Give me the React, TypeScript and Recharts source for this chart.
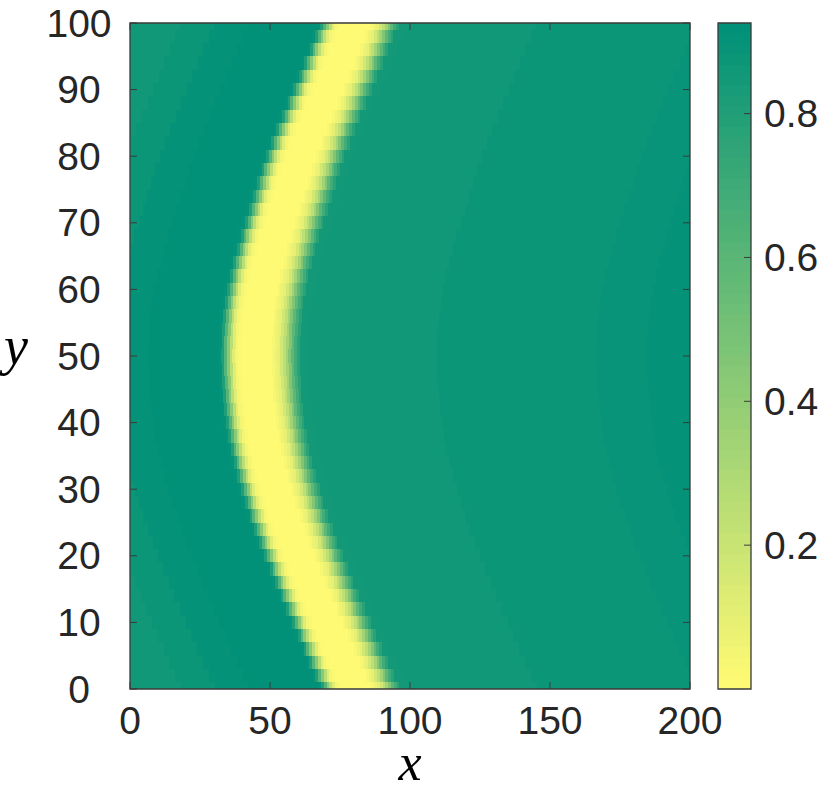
import React from 'react';
import { ScatterChart, Scatter, XAxis, YAxis, ReferenceArea, BarChart, Bar } from 'recharts';

// rows of the field (y) and the centre of the yellow band in each row (x)
const rowY = [
  0, 2, 4, 6, 8, 10, 12, 14, 16, 18, 20, 22, 24, 26, 28, 30, 32, 34, 36, 38, 40, 42, 44, 46, 48, 50,
  52, 54, 56, 58, 60, 62, 64, 66, 68, 70, 72, 74, 76, 78, 80, 82, 84, 86, 88, 90, 92, 94, 96, 98, 100,
];
const bandCenter = [
  80.2, 78.2, 76.1, 74.0, 71.9, 69.9, 67.8, 65.8, 63.8, 61.9, 60.0, 58.1, 56.4, 54.7, 53.1, 51.7, 50.3,
  49.1, 48.0, 47.1, 46.3, 45.7, 45.2, 44.9, 44.7, 44.6,
  44.7, 44.9, 45.3, 45.9, 46.7, 47.7, 48.9, 50.2, 51.6, 53.1, 54.6, 56.0, 57.5, 59.0, 60.6, 62.4, 64.3,
  66.3, 68.3, 70.3, 72.3, 74.3, 76.2, 78.1, 80.0,
];

// profile across the band: offset from band centre where a level starts, and its value
const profileStart = [
  -90, -62, -50, -38, -25, -13, -12, -11, -10, -9, -8, -7, -6, -5,
  5, 6, 7, 8, 9, 10, 11, 12, 13, 14, 15, 16, 17, 19, 65, 122, 140,
];
const profileValue = [
  0.86, 0.88, 0.9, 0.915, 0.925, 0.9, 0.8, 0.62, 0.42, 0.25, 0.12, 0.05, 0.015, 0.0,
  0.01, 0.03, 0.06, 0.1, 0.16, 0.24, 0.34, 0.46, 0.58, 0.69, 0.78, 0.84, 0.845, 0.855, 0.87, 0.885, 0.905,
];

const xTicks = [0, 50, 100, 150, 200];
const yTicks = [0, 10, 20, 30, 40, 50, 60, 70, 80, 90, 100];
const cbTicks = [0.2, 0.4, 0.6, 0.8];
const CMAX = 0.926;
const LEVELS = 64;
const ROW_H = 2;

const YELLOW = [255, 250, 115];
const TEAL = [0, 145, 120];

const PLOT_LEFT = 130;
const PLOT_TOP = 23;
const PLOT_W = 560;
const PLOT_H = 666;
const PX_X = PLOT_W / 200;
const PX_Y = PLOT_H / 100;
const CB_LEFT = 700; // where the colorbar chart sits on the page
const CB_RIGHT = 751 - CB_LEFT;

const TEXT = '#262626';
const AXIS = '#3a3a3a';
const FONT = '"Liberation Sans", Arial, Helvetica, sans-serif';
const MATH_FONT = '"Liberation Serif", "Times New Roman", serif';

function levelColor(i: number) {
  const t = i / (LEVELS - 1);
  const c = YELLOW.map((v, k) => Math.round(v + t * (TEAL[k] - v)));
  return `rgb(${c[0]},${c[1]},${c[2]})`;
}

function colorFor(v: number) {
  let i = Math.floor((v / CMAX) * LEVELS);
  if (i < 0) i = 0;
  if (i > LEVELS - 1) i = LEVELS - 1;
  return levelColor(i);
}

const cells: { x: number; y: number; w: number; h: number; fill: string }[] = [];
rowY.forEach((y, r) => {
  const c = bandCenter[r];
  profileStart.forEach((u, i) => {
    const xs = Math.max(0, c + u);
    const xe = Math.min(200, i + 1 < profileStart.length ? c + profileStart[i + 1] : 200);
    if (xe > xs) cells.push({ x: (xs + xe) / 2, y, w: xe - xs, h: ROW_H, fill: colorFor(profileValue[i]) });
  });
});

const cbRow: Record<string, number | string> = { name: 'cb' };
for (let i = 0; i < LEVELS; i++) cbRow[`s${i}`] = CMAX / LEVELS;
const cbKeys = Array.from({ length: LEVELS }, (_, i) => `s${i}`);

const Cell = (props: any) => {
  const { cx, cy, payload } = props;
  const w = payload.w * PX_X;
  const h = payload.h * PX_Y;
  return <rect x={cx - w / 2} y={cy - h / 2} width={w} height={h} fill={payload.fill} shapeRendering="crispEdges" />;
};

const CbSegment = (props: any) => {
  const { x, y, width, height, fill } = props;
  return <rect x={x} y={y} width={width} height={height} fill={fill} shapeRendering="crispEdges" />;
};

const XTick = (props: any) => {
  const { x, payload } = props;
  const bottom = PLOT_TOP + PLOT_H;
  return (
    <g>
      <line x1={x} x2={x} y1={bottom} y2={bottom - 7} stroke={AXIS} />
      <line x1={x} x2={x} y1={PLOT_TOP} y2={PLOT_TOP + 7} stroke={AXIS} />
      <text x={x} y={bottom + 31} textAnchor="middle" dominantBaseline="central" fontSize={39} fill={TEXT} fontFamily={FONT}>
        {payload.value}
      </text>
    </g>
  );
};

const YTick = (props: any) => {
  const { y, payload } = props;
  return (
    <g>
      <line x1={PLOT_LEFT} x2={PLOT_LEFT + 7} y1={y} y2={y} stroke={AXIS} />
      <line x1={PLOT_LEFT + PLOT_W - 7} x2={PLOT_LEFT + PLOT_W} y1={y} y2={y} stroke={AXIS} />
      <text x={79} y={y} textAnchor="middle" dominantBaseline="central" fontSize={39} fill={TEXT} fontFamily={FONT}>
        {payload.value}
      </text>
    </g>
  );
};

const CbTick = (props: any) => {
  const { y, payload } = props;
  return (
    <g>
      <line x1={CB_RIGHT - 7} x2={CB_RIGHT} y1={y} y2={y} stroke={AXIS} />
      <text x={CB_RIGHT + 13} y={y} textAnchor="start" dominantBaseline="central" fontSize={39} fill={TEXT} fontFamily={FONT}>
        {payload.value.toFixed(1)}
      </text>
    </g>
  );
};

export default function App() {
  return (
    <div style={{ position: 'fixed', left: 0, top: 0, width: 830, height: 786, background: '#fff' }}>
      <div style={{ position: 'absolute', left: 0, top: 0 }}>
        <ScatterChart width={830} height={786} margin={{ top: PLOT_TOP, right: 140, bottom: 37, left: 50 }}>
          <XAxis
            type="number"
            dataKey="x"
            domain={[0, 200]}
            ticks={xTicks}
            allowDataOverflow
            height={60}
            tickSize={0}
            tickMargin={0}
            axisLine={false}
            tickLine={false}
            tick={<XTick />}
            label={() => (
              <text x={410} y={780} textAnchor="middle" fontSize={52} fontStyle="italic" fill="#000" fontFamily={MATH_FONT}>
                x
              </text>
            )}
          />
          <YAxis
            type="number"
            dataKey="y"
            domain={[0, 100]}
            ticks={yTicks}
            allowDataOverflow
            width={80}
            tickSize={0}
            tickMargin={0}
            axisLine={false}
            tickLine={false}
            tick={<YTick />}
            label={() => (
              <text x={16} y={364} textAnchor="middle" fontSize={54} fontStyle="italic" fill="#000" fontFamily={MATH_FONT}>
                y
              </text>
            )}
          />
          <Scatter data={cells} shape={<Cell />} isAnimationActive={false} />
          <ReferenceArea x1={0} x2={200} y1={0} y2={100} fill="none" stroke={AXIS} strokeWidth={1.3} zIndex={1000} />
        </ScatterChart>
      </div>
      <div style={{ position: 'absolute', left: CB_LEFT, top: 0 }}>
        <BarChart width={130} height={786} data={[cbRow]} margin={{ top: PLOT_TOP, right: 0, bottom: 97, left: 18 }} barCategoryGap={0}>
          <XAxis dataKey="name" type="category" hide />
          <YAxis
            orientation="right"
            type="number"
            domain={[0, CMAX]}
            ticks={cbTicks}
            allowDataOverflow
            width={79}
            tickSize={0}
            tickMargin={0}
            axisLine={false}
            tickLine={false}
            tick={<CbTick />}
          />
          {cbKeys.map((k, i) => (
            <Bar key={k} dataKey={k} stackId="cb" fill={levelColor(i)} shape={<CbSegment />} isAnimationActive={false} />
          ))}
          <ReferenceArea y1={0} y2={CMAX} fill="none" stroke={AXIS} strokeWidth={1.3} zIndex={1000} />
        </BarChart>
      </div>
    </div>
  );
}
